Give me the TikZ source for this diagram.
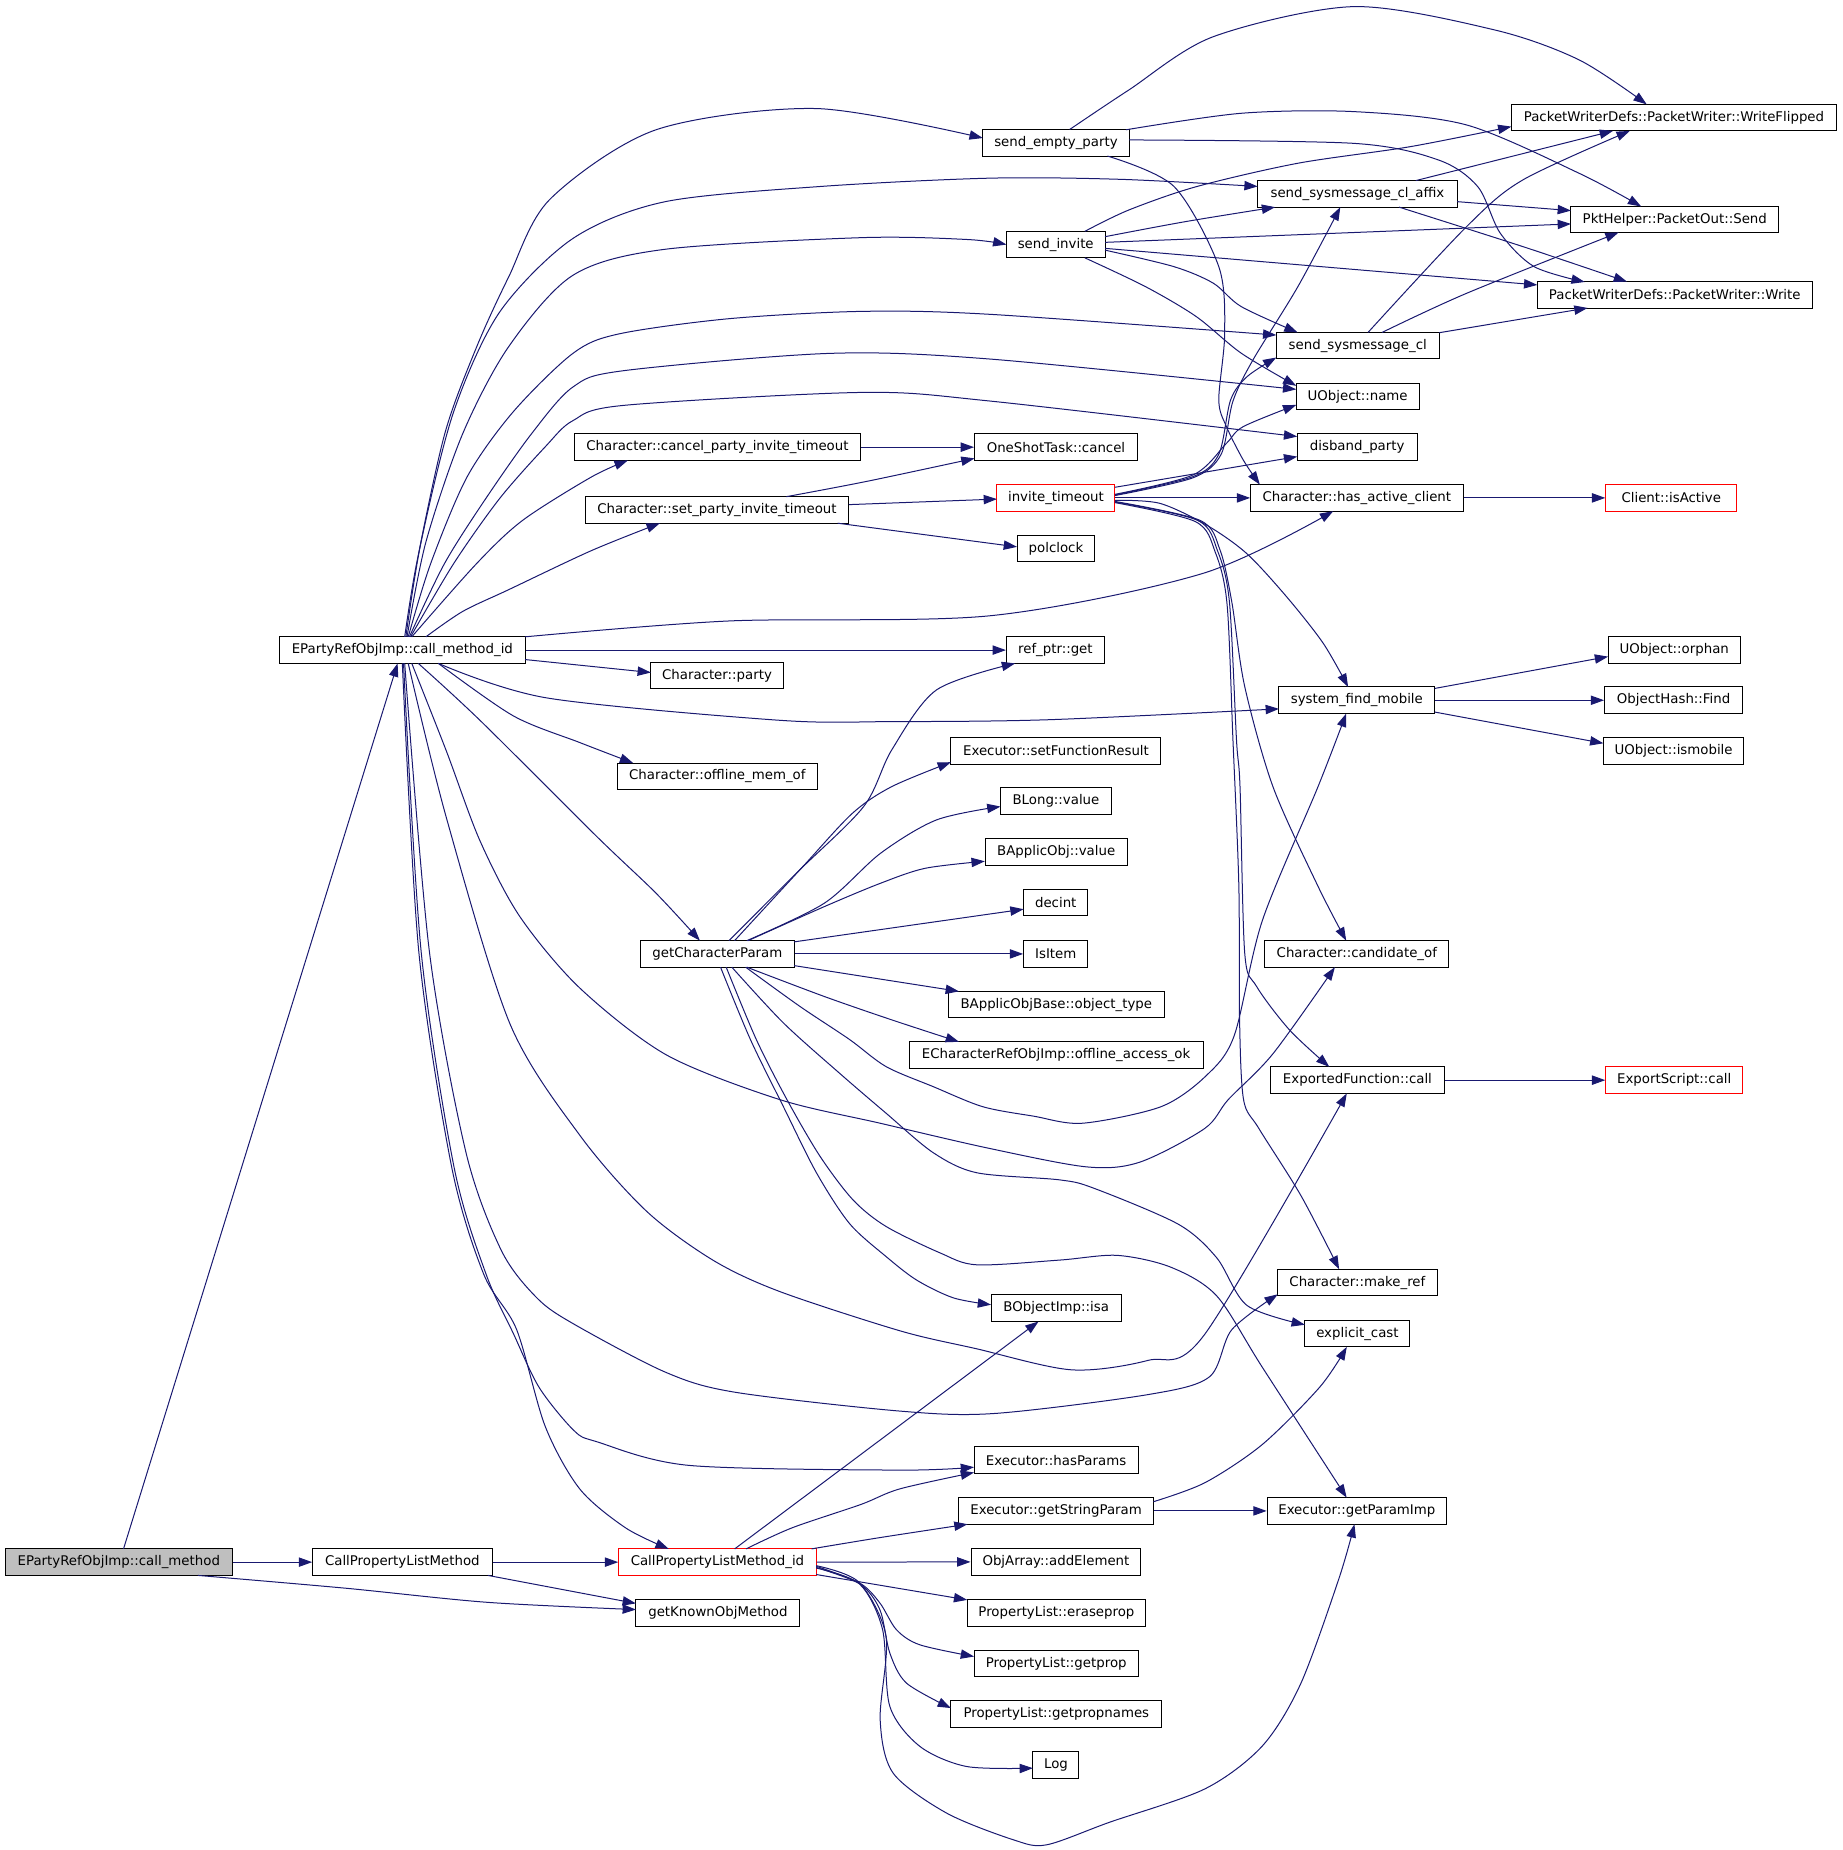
\documentclass[tikz,border=0pt]{standalone}
\usepackage{fontspec}
\setmainfont{DejaVu Sans}
\usetikzlibrary{arrows.meta}
\definecolor{edgeblue}{HTML}{191970}
\definecolor{rootgray}{HTML}{BFBFBF}
\begin{document}
\begin{tikzpicture}[x=0.885pt,y=-0.885pt,
  nd/.style={draw=black, line width=0.75pt, minimum height=22.5*0.885pt, inner sep=0pt, font=\fontsize{10pt}{12pt}\selectfont},
  bw/.style={minimum width=#1*0.885pt},
  redn/.style={draw=red},
  root/.style={fill=rootgray},
  e/.style={draw=edgeblue, line width=0.75pt, -{Triangle[length=10pt,width=7pt]}}]
\useasboundingbox (0,0) rectangle (1562,1568);

% nodes
\node[nd,bw=192.6,root] (cm) at (100.7,1324) {EPartyRefObjImp::call\_method};
\node[nd,bw=152] (cplm) at (341,1324) {CallPropertyListMethod};
\node[nd,bw=167.4,redn] (cplmid) at (608.1,1324) {CallPropertyListMethod\_id};
\node[nd,bw=139] (gkom) at (608.5,1367) {getKnownObjMethod};
\node[nd,bw=208] (cmid) at (341,551) {EPartyRefObjImp::call\_method\_id};
\node[nd,bw=124] (sep) at (895,121) {send\_empty\_party};
\node[nd,bw=169] (ssa) at (1150.5,164.3) {send\_sysmessage\_cl\_affix};
\node[nd,bw=83.6] (si) at (894.8,207.3) {send\_invite};
\node[nd,bw=138] (ssc) at (1150.8,293) {send\_sysmessage\_cl};
\node[nd,bw=104] (uon) at (1150.7,336) {UObject::name};
\node[nd,bw=101.5] (dp) at (1150.3,379) {disband\_party};
\node[nd,bw=243.2] (cpit) at (608.1,379) {Character::cancel\_party\_invite\_timeout};
\node[nd,bw=138] (ost) at (895,379) {OneShotTask::cancel};
\node[nd,bw=223.7] (spit) at (607.7,432.2) {Character::set\_party\_invite\_timeout};
\node[nd,bw=100,redn] (it) at (895,422) {invite\_timeout};
\node[nd,bw=180] (hac) at (1150,422) {Character::has\_active\_client};
\node[nd,bw=111,redn] (cia) at (1416.5,422) {Client::isActive};
\node[nd,bw=66] (pc) at (895,465) {polclock};
\node[nd,bw=83] (rpg) at (894.5,551) {ref\_ptr::get};
\node[nd,bw=112] (cp) at (607.7,572.5) {Character::party};
\node[nd,bw=132] (sfm) at (1150,593.5) {system\_find\_mobile};
\node[nd,bw=112] (uoo) at (1419,551) {UObject::orphan};
\node[nd,bw=117] (ohf) at (1418.5,593.5) {ObjectHash::Find};
\node[nd,bw=119] (uoi) at (1418.5,636.5) {UObject::ismobile};
\node[nd,bw=178] (esfr) at (895,636.5) {Executor::setFunctionResult};
\node[nd,bw=170] (como) at (608,658) {Character::offline\_mem\_of};
\node[nd,bw=94] (blv) at (895,679) {BLong::value};
\node[nd,bw=120.5] (baov) at (895.2,722) {BApplicObj::value};
\node[nd,bw=54.4] (dec) at (894.8,765) {decint};
\node[nd,bw=54.4] (isi) at (894.8,808.5) {IsItem};
\node[nd,bw=130] (gcp) at (608,808.5) {getCharacterParam};
\node[nd,bw=156] (cco) at (1150,808.5) {Character::candidate\_of};
\node[nd,bw=182.6] (baot) at (895.3,851.5) {BApplicObjBase::object\_type};
\node[nd,bw=249.2] (oao) at (895.1,894) {ECharacterRefObjImp::offline\_access\_ok};
\node[nd,bw=147] (efc) at (1150.5,915.5) {ExportedFunction::call};
\node[nd,bw=116,redn] (esc) at (1419,915.5) {ExportScript::call};
\node[nd,bw=135] (cmr) at (1150.5,1087) {Character::make\_ref};
\node[nd,bw=110.5] (boi) at (895.2,1108.8) {BObjectImp::isa};
\node[nd,bw=89] (ec) at (1150.5,1130.3) {explicit\_cast};
\node[nd,bw=139] (ehp) at (895.1,1237.5) {Executor::hasParams};
\node[nd,bw=165.1] (egsp) at (895.1,1280.6) {Executor::getStringParam};
\node[nd,bw=152] (egpi) at (1150,1280.6) {Executor::getParamImp};
\node[nd,bw=144] (oae) at (895,1323.8) {ObjArray::addElement};
\node[nd,bw=151.2] (ple) at (895.4,1367) {PropertyList::eraseprop};
\node[nd,bw=139.2] (plg) at (895.2,1409.8) {PropertyList::getprop};
\node[nd,bw=178.6] (plgn) at (895.3,1452.5) {PropertyList::getpropnames};
\node[nd,bw=39] (lg) at (895,1495.8) {Log};
\node[nd,bw=275.6] (wf) at (1418.8,99.7) {PacketWriterDefs::PacketWriter::WriteFlipped};
\node[nd,bw=176] (pos) at (1419.5,186) {PktHelper::PacketOut::Send};
\node[nd,bw=233] (pww) at (1419.5,250) {PacketWriterDefs::PacketWriter::Write};

% edges from call_method and CallPropertyListMethod
\draw[e] ([shift={(4,-11.25)}]cm.center) -- ([shift={(-4,11.25)}]cmid.center);
\draw[e] (cm.east) -- (cplm.west);
\draw[e] plot[smooth] coordinates {([shift={(67,11.25)}]cm.center) (291.9,1346) (413.5,1358.1) ([shift={(-69.5,-2.8)}]gkom.center)};
\draw[e] (cplm.east) -- (cplmid.west);
\draw[e] ([shift={(72.5,11.25)}]cplm.center) -- ([shift={(-69.5,-8)}]gkom.center);

% CallPropertyListMethod_id
\draw[e] ([shift={(14.6,-11.25)}]cplmid.center) -- ([shift={(-15,11.25)}]boi.center);
\draw[e] plot[smooth] coordinates {([shift={(24.3,-11.25)}]cplmid.center) (671.4,1294.9) (729.7,1275.1) (762.7,1261.9) ([shift={(-69.5,10.5)}]ehp.center)};
\draw[e] plot[smooth] coordinates {([shift={(79.8,-11.25)}]cplmid.center) (745.8,1303.2) ([shift={(-75,11.25)}]egsp.center)};
\draw[e] (cplmid.east) -- (oae.west);
\draw[e] ([shift={(83.7,10.5)}]cplmid.center) -- ([shift={(-75.6,-11)}]ple.center);
\draw[e] plot[smooth] coordinates {([shift={(83.7,3.5)}]cplmid.center) (728.8,1341.8) (745.8,1358.7) (759.9,1381.4) (779.7,1394.1) ([shift={(-69.6,-5.8)}]plg.center)};
\draw[e] plot[smooth] coordinates {([shift={(83.7,4.5)}]cplmid.center) (728.8,1342.5) (745.8,1364.4) (754.2,1401.1) (768.4,1426.6) ([shift={(-89.3,-4.8)}]plgn.center)};
\draw[e] plot[smooth] coordinates {([shift={(83.7,5)}]cplmid.center) (728.5,1342.5) (748,1381) (754.2,1446.3) (779.7,1480.2) (819.2,1497.2) ([shift={(-19.5,2.8)}]lg.center)};
\draw[e] plot[smooth] coordinates {([shift={(83.7,3)}]cplmid.center) (728,1341) (751,1387) (746,1457.6) (757,1502.8) (802.3,1536.7) (858.8,1559.3) (887,1563.6) (940.3,1544.5) (1021.4,1516.1) (1070,1479.7) (1102.5,1426.9) (1134.9,1337.7) ([shift={(-2,11.25)}]egpi.center)};

% getStringParam
\draw[e] plot[smooth] coordinates {([shift={(82.5,-7.8)}]egsp.center) (1021.4,1256.6) (1070,1224.2) (1118.7,1175.5) ([shift={(-9,11.25)}]ec.center)};
\draw[e] (egsp.east) -- (egpi.west);

% call_method_id
\draw[e] plot[smooth] coordinates {([shift={(2,-11.25)}]cmid.center) (353,478) (377,367.5) (404,294) (431,235) (466,169) (556,110) (692,92) ([shift={(-62,-4)}]sep.center)};
\draw[e] plot[smooth] coordinates {([shift={(3,-11.25)}]cmid.center) (357,459) (384.5,349) (423.4,264.6) (485.6,202.1) (563.5,171) (696,158) (839,151) (950,152) ([shift={(-84.5,-6.3)}]ssa.center)};
\draw[e] plot[smooth] coordinates {([shift={(4,-11.25)}]cmid.center) (361,459.3) (392.2,367.5) (431,294) (485.6,233.3) (563.5,211.3) (730.8,201.4) (820,203) ([shift={(-41.8,0)}]si.center)};
\draw[e] plot[smooth] coordinates {([shift={(5,-11.25)}]cmid.center) (365,477.7) (396,404) (435,349) (485.6,299.5) (524.6,283) (617.9,270.1) (730.8,263.9) (839,266.4) ([shift={(-69,-9)}]ssc.center)};
\draw[e] plot[smooth] coordinates {([shift={(6,-11.25)}]cmid.center) (376.7,477.7) (411.7,422.6) (450.6,367.5) (485.6,328) (528.4,314.2) (703.4,299.5) (839,304.3) ([shift={(-52,-6)}]uon.center)};
\draw[e] plot[smooth] coordinates {([shift={(7,-11.25)}]cmid.center) (384.5,477.7) (423.4,422.6) (462.3,378.5) (485.6,356.5) (528.4,343.6) (730.8,332.6) (839,339.9) ([shift={(-50.8,-9)}]dp.center)};
\draw[e] plot[smooth] coordinates {([shift={(8,-11.25)}]cmid.center) (403.9,477.7) (443,441) (501.2,404.3) ([shift={(-76,11.25)}]cpit.center)};
\draw[e] plot[smooth] coordinates {([shift={(20,-11.25)}]cmid.center) (392.2,518.2) (431.1,499.8) (501.2,466.7) ([shift={(-48.4,11.25)}]spit.center)};
\draw[e] plot[smooth] coordinates {([shift={(104,-11.25)}]cmid.center) (617.9,526.3) (839,521.9) (1019.8,485.9) ([shift={(-20,11.25)}]hac.center)};
\draw[e] (cmid.east) -- (rpg.west);
\draw[e] ([shift={(104,8)}]cmid.center) -- ([shift={(-56,-2.5)}]cp.center);
\draw[e] plot[smooth] coordinates {([shift={(30.5,11.25)}]cmid.center) (463.3,591.5) (661,610.5) (756,611.6) (889,610) ([shift={(-66,7.3)}]sfm.center)};
\draw[e] plot[smooth] coordinates {([shift={(30.5,11.25)}]cmid.center) (435,606.7) (491.5,629.4) ([shift={(-71.3,-11.25)}]como.center)};
\draw[e] plot[smooth] coordinates {([shift={(13.5,11.25)}]cmid.center) (406.8,610.5) (505.6,708.8) (556,757) ([shift={(-14.8,-11.25)}]gcp.center)};
\draw[e] plot[smooth] coordinates {([shift={(8,11.25)}]cmid.center) (378.5,637) (406.8,712.6) (440.7,777) (491.5,837.5) (565,894.2) (661,932) (746,952) (837,973) (921,989) (966,985) (1021,956.5) (1041,932) (1079,893) ([shift={(-18.6,11.25)}]cco.center)};
\draw[e] plot[smooth] coordinates {([shift={(5,11.25)}]cmid.center) (378.5,693.7) (432.2,867.7) (491.5,962.3) (548,1026.6) (604.5,1068.2) (661,1094.7) (763,1128) (827,1143) (908,1161) (973,1153) (1021,1131) ([shift={(-9,11.25)}]efc.center)};
\draw[e] plot[smooth] coordinates {([shift={(2,11.25)}]cmid.center) (364,807) (395,977) (425,1060) (455,1100) (486,1122) (564,1163) (623,1180) (763,1196) (843,1198) (973,1182) (1025,1167) (1044,1127) ([shift={(-67.5,10)}]cmr.center)};
\draw[e] plot[smooth] coordinates {([shift={(1,11.25)}]cmid.center) (357,807) (385,990) (412,1080) (435,1130) (457,1176) (486.5,1212.5) (506,1222) (584,1242) (763,1246) ([shift={(-69.5,6)}]ehp.center)};
\draw[e] plot[smooth] coordinates {([shift={(0,11.25)}]cmid.center) (355,807) (383,990) (410,1080) (437.8,1126.7) (462.2,1209.2) (491.4,1262) (530.3,1295) ([shift={(-41.3,-11.25)}]cplmid.center)};

% timeout tasks
\draw[e] (cpit.east) -- (ost.west);
\draw[e] plot[smooth] coordinates {([shift={(58.8,-11.25)}]spit.center) (734.6,408) ([shift={(-69,9.5)}]ost.center)};
\draw[e] ([shift={(111.8,-4.5)}]spit.center) -- ([shift={(-50,1)}]it.center);
\draw[e] ([shift={(102.3,11.25)}]spit.center) -- ([shift={(-33,-1.5)}]pc.center);

% invite_timeout
\draw[e] ([shift={(50,-9)}]it.center) -- ([shift={(-50.8,8)}]dp.center);
\draw[e] plot[smooth] coordinates {([shift={(50,-3)}]it.center) (1011.3,402.5) (1039.5,375.7) (1053.7,361.6) ([shift={(-52,7.2)}]uon.center)};
\draw[e] plot[smooth] coordinates {([shift={(50,-2.5)}]it.center) (1011,404) (1033,385) (1043,339) (1057,319.2) ([shift={(-69,10)}]ssc.center)};
\draw[e] plot[smooth] coordinates {([shift={(50,-2)}]it.center) (1011,405) (1035,385) (1045,340) (1062,305) (1100,243) ([shift={(-14.5,11.25)}]ssa.center)};
\draw[e] (it.east) -- (hac.west);
\draw[e] plot[smooth] coordinates {([shift={(50,2)}]it.center) (983,426.6) (1022.6,445) (1056.5,469) (1090.4,505.7) (1121.5,545.2) ([shift={(-7.4,-11.25)}]sfm.center)};
\draw[e] plot[smooth] coordinates {([shift={(50,3)}]it.center) (1017,441) (1034,466) (1044,510) (1055,582) (1079,667) (1117,751) ([shift={(-9,-11.25)}]cco.center)};
\draw[e] plot[smooth] coordinates {([shift={(50,3.5)}]it.center) (1015,441) (1032,467) (1042,510) (1048,627) (1051,667) (1055,808) (1065,836) (1093,873) ([shift={(-23.8,-11.25)}]efc.center)};
\draw[e] plot[smooth] coordinates {([shift={(50,4)}]it.center) (1013,442) (1030,468) (1040,512) (1045,627) (1050,751) (1050.6,864) (1054,932) (1067,956.5) (1102.6,1013.3) ([shift={(-15.5,-11.25)}]cmr.center)};

% send_empty_party
\draw[e] plot[smooth] coordinates {([shift={(43.6,11.25)}]sep.center) (995,158) (1033,226) (1038,282.5) (1033,339) (1039.5,361.6) (1053.7,389.8) ([shift={(-82.2,-11.25)}]hac.center)};
\draw[e] plot[smooth] coordinates {([shift={(11.6,-11.25)}]sep.center) (956.7,76.3) (1028.3,31.1) (1147.5,5.6) (1266.9,25.4) (1338.5,50.8) ([shift={(-23.1,-11.25)}]wf.center)};
\draw[e] plot[smooth] coordinates {([shift={(59.3,-11)}]sep.center) (1052.1,96) (1147.5,94.6) (1243,105.9) (1338.5,146.9) ([shift={(-28.5,-11)}]pos.center)};
\draw[e] plot[smooth] coordinates {([shift={(62,-2.4)}]sep.center) (1147.5,121.5) (1219.2,135.6) (1252.5,158.2) (1271.6,197.7) (1300.3,226) ([shift={(-76.3,-11)}]pww.center)};

% send_sysmessage_cl_affix
\draw[e] ([shift={(49.5,-11.25)}]ssa.center) -- ([shift={(-51.7,11.25)}]wf.center);
\draw[e] ([shift={(84.5,6.6)}]ssa.center) -- ([shift={(-88,-7.5)}]pos.center);
\draw[e] plot[smooth] coordinates {([shift={(35.3,11.25)}]ssa.center) (1290.7,209) ([shift={(-40.5,-11.25)}]pww.center)};

% send_invite
\draw[e] plot[smooth] coordinates {([shift={(41.8,-6.7)}]si.center) (1004.4,187.9) ([shift={(-69.7,11.25)}]ssa.center)};
\draw[e] plot[smooth] coordinates {([shift={(24.7,-11.25)}]si.center) (956.7,178) (1014,158.2) (1099.8,138.4) (1195.3,124.3) ([shift={(-137.8,7.6)}]wf.center)};
\draw[e] ([shift={(41.8,-1.9)}]si.center) -- ([shift={(-88,3.8)}]pos.center);
\draw[e] ([shift={(41.8,3.2)}]si.center) -- ([shift={(-116.5,-8.5)}]pww.center);
\draw[e] plot[smooth] coordinates {([shift={(41.8,4.7)}]si.center) (995,226) (1028.3,240) (1052.1,259.9) ([shift={(-51,-11.25)}]ssc.center)};
\draw[e] plot[smooth] coordinates {([shift={(24.7,11.25)}]si.center) (971,243) (1014,268.4) (1052.1,299.4) ([shift={(-52,-9)}]uon.center)};

% send_sysmessage_cl
\draw[e] plot[smooth] coordinates {([shift={(8.7,-11.25)}]ssc.center) (1243,192.1) (1290.7,152.5) ([shift={(-37.4,11.25)}]wf.center)};
\draw[e] plot[smooth] coordinates {([shift={(20.6,-11.25)}]ssc.center) (1243,248.6) ([shift={(-47.6,11)}]pos.center)};
\draw[e] ([shift={(69,-11)}]ssc.center) -- ([shift={(-73.9,11)}]pww.center);

% right column
\draw[e] (hac.east) -- (cia.west);
\draw[e] ([shift={(66,-10)}]sfm.center) -- ([shift={(-56,5.5)}]uoo.center);
\draw[e] (sfm.east) -- (ohf.west);
\draw[e] ([shift={(66,10)}]sfm.center) -- ([shift={(-59.5,-6.5)}]uoi.center);
\draw[e] (efc.east) -- (esc.west);

% getCharacterParam
\draw[e] plot[smooth] coordinates {([shift={(9.9,-11.25)}]gcp.center) (674.9,740.1) (732,683.6) (755.8,635.6) (793.8,584.7) ([shift={(-34.1,11.25)}]rpg.center)};
\draw[e] plot[smooth] coordinates {([shift={(14.6,-11.25)}]gcp.center) (680,735) (722.5,689.3) (755.8,666.7) ([shift={(-89,9.5)}]esfr.center)};
\draw[e] plot[smooth] coordinates {([shift={(25,-11.25)}]gcp.center) (698.7,765.5) (746.3,723.2) (793.8,694.9) ([shift={(-47,4.6)}]blv.center)};
\draw[e] plot[smooth] coordinates {([shift={(26,-11.25)}]gcp.center) (698.7,768.4) (746.3,748.6) (784.3,735.9) ([shift={(-60.5,8)}]baov.center)};
\draw[e] ([shift={(65,-10.2)}]gcp.center) -- ([shift={(-27.2,5.6)}]dec.center);
\draw[e] (gcp.east) -- (isi.west);
\draw[e] ([shift={(65,9.9)}]gcp.center) -- ([shift={(-82.5,-11.25)}]baot.center);
\draw[e] plot[smooth] coordinates {([shift={(25,11.25)}]gcp.center) (698.7,844.6) (755.8,864.4) ([shift={(-82.3,-11)}]oao.center)};
\draw[e] plot[smooth] coordinates {([shift={(24,11.25)}]gcp.center) (678,853) (720,881) (751,904) (791,921) (833,938) (876,946) (917.5,952) (984,938) (1022,912) (1046,878) (1070,780) (1117,667) ([shift={(-9,11.25)}]sfm.center)};
\draw[e] plot[smooth] coordinates {([shift={(2.7,11.25)}]gcp.center) (636,881) (664,938) (692,994) (720,1037) (751,1065) (777,1085) (808,1100) ([shift={(-55.2,-3)}]boi.center)};
\draw[e] plot[smooth] coordinates {([shift={(7.5,11.25)}]gcp.center) (641,881) (667,932) (695,980) (723,1017) (751,1039.5) (797,1062) (828,1072) (898,1068) (946.9,1064) (992.3,1074) (1031.2,1098.3) (1070,1159) ([shift={(-8.6,-11.25)}]egpi.center)};
\draw[e] plot[smooth] coordinates {([shift={(12.3,11.25)}]gcp.center) (664,867) (712,910) (751,943.5) (791,977) (828,994) (898,1000) (927.4,1007.2) (998.7,1037.6) (1031.2,1066) (1057,1106.5) ([shift={(-44.5,-7.5)}]ec.center)};
\end{tikzpicture}
\end{document}
